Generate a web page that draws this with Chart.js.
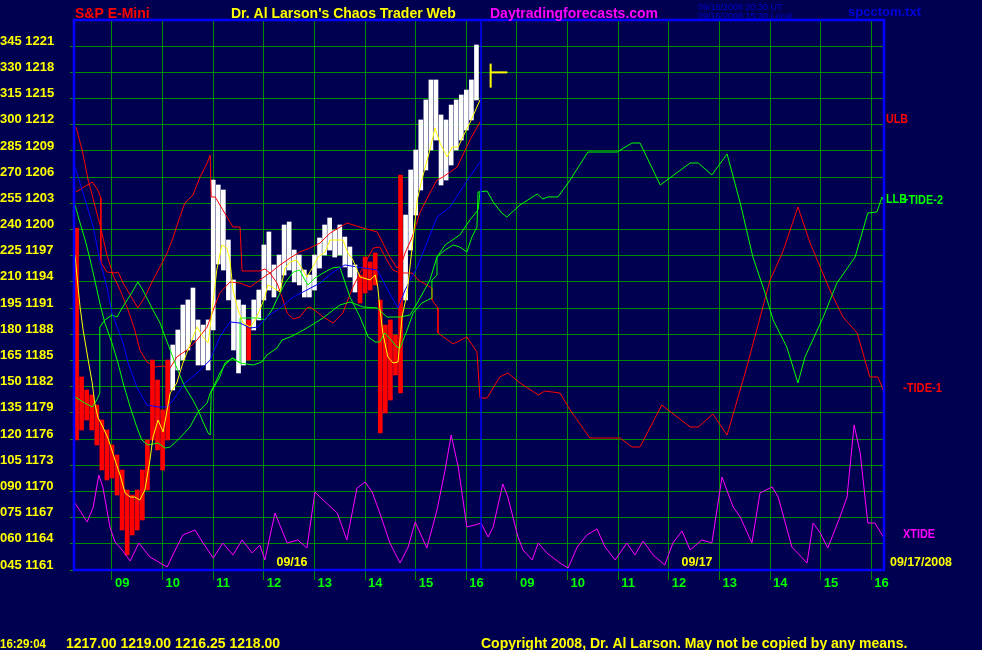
<!DOCTYPE html>
<html>
<head>
<meta charset="utf-8">
<title>S&amp;P E-Mini - Chaos Trader Web</title>
<script src="https://cdn.jsdelivr.net/npm/chart.js@4.4.0/dist/chart.umd.min.js"></script>
<style>
  html, body { margin: 0; padding: 0; background: #000050; }
</style>
</head>
<body>
<canvas id="chaosChart" width="982" height="650"></canvas>
<script>
// time axis: hours since 08:15 on 09/16, second session (09/17) starts at dayBreak
const dayBreak = 8.04;
const sessionDates = ['09/16', '09/17'];
const chartDate = '09/17/2008';
const xTickHours = [0.75, 1.75, 2.75, 3.75, 4.75, 5.75, 6.75, 7.75, 8.75, 9.75, 10.75, 11.75, 12.75, 13.75, 14.75, 15.75];
const xTickLabels = ['09', '10', '11', '12', '13', '14', '15', '16', '09', '10', '11', '12', '13', '14', '15', '16'];

// price axis: degrees on the left, S&P price on the right
const yTickPrices = [1161, 1164, 1167, 1170, 1173, 1176, 1179, 1182, 1185, 1188, 1191, 1194, 1197, 1200, 1203, 1206, 1209, 1212, 1215, 1218, 1221];
const yTickDegrees = ['045', '060', '075', '090', '105', '120', '135', '150', '165', '180', '195', '210', '225', '240', '255', '270', '285', '300', '315', '330', '345'];

// price bars, one every 6 minutes from 08:18 (09/16)
const barStart = 0.05;
const barStep = 0.1;
const barHigh = [1200.17, 1183.11, 1181.62, 1181.05, 1179.90, 1178.18, 1177.04, 1175.32, 1174.17, 1172.45,
  1170.16, 1169.59, 1170.16, 1172.45, 1175.89, 1185.05, 1182.76, 1179.33, 1185.05, 1186.77,
  1188.49, 1191.35, 1191.93, 1193.30, 1189.64, 1189.06, 1189.64, 1205.67, 1205.10, 1204.53,
  1198.80, 1194.22, 1191.93, 1191.35, 1189.64, 1191.93, 1193.07, 1198.23, 1199.72, 1195.94,
  1197.08, 1200.52, 1200.86, 1197.65, 1197.08, 1195.36, 1194.79, 1197.08, 1199.03, 1200.52,
  1201.32, 1199.94, 1200.52, 1199.14, 1198.00, 1195.94, 1194.79, 1196.85, 1196.28, 1197.31,
  1191.93, 1189.06, 1189.64, 1187.92, 1206.25, 1201.66, 1206.82, 1209.11, 1212.55, 1214.84,
  1217.13, 1217.13, 1213.12, 1212.55, 1214.26, 1214.84, 1215.41, 1215.98, 1217.13, 1221.14];
const barLow = [1175.89, 1177.04, 1178.18, 1177.04, 1175.32, 1172.45, 1171.31, 1171.54, 1169.59, 1165.58,
  1162.72, 1165.01, 1165.58, 1166.73, 1170.16, 1175.89, 1174.75, 1172.45, 1175.89, 1181.62,
  1183.91, 1185.05, 1186.20, 1187.35, 1184.48, 1184.48, 1183.91, 1188.49, 1196.05, 1195.36,
  1191.93, 1186.20, 1183.57, 1184.48, 1185.05, 1188.49, 1189.64, 1191.93, 1193.07, 1192.27,
  1193.07, 1194.79, 1195.36, 1193.99, 1193.65, 1192.27, 1192.27, 1193.07, 1195.59, 1197.08,
  1197.65, 1196.85, 1197.08, 1195.71, 1194.56, 1192.84, 1191.58, 1192.73, 1193.07, 1193.65,
  1176.69, 1178.98, 1180.47, 1183.34, 1181.27, 1191.93, 1197.65, 1201.66, 1204.53, 1206.82,
  1209.11, 1210.25, 1205.10, 1205.67, 1207.39, 1209.11, 1210.25, 1211.40, 1212.55, 1214.84];
// 1 = trading below its average (red bar), 0 = above (white bar)
const barBelow = [1, 1, 1, 1, 1, 1, 1, 1, 1, 1, 1, 1, 1, 1, 1, 1, 1, 1, 1, 0,
  0, 0, 0, 0, 0, 0, 0, 0, 0, 0, 0, 0, 0, 0, 1, 0, 0, 0, 0, 0,
  0, 0, 0, 0, 0, 0, 0, 0, 0, 0, 0, 0, 0, 0, 0, 0, 1, 1, 1, 1,
  1, 1, 1, 1, 1, 0, 0, 0, 0, 0, 0, 0, 0, 0, 0, 0, 0, 0, 0, 0];

// last bar
const lastBarTime = '16:29:04';
const lastBarHour = 8.23;
const lastBarOHLC = [1217.00, 1219.00, 1216.25, 1218.00];

// [hour, price] pairs
const avgYellow = [[0.02, 1197.08], [0.06, 1194.56], [0.12, 1191.13], [0.18, 1188.49], [0.28, 1185.05], [0.36, 1182.42],
  [0.41, 1180.13], [0.47, 1178.53], [0.57, 1177.38], [0.67, 1176.12], [0.81, 1173.60], [0.91, 1171.88], [1.01, 1169.82],
  [1.11, 1169.36], [1.20, 1169.36], [1.30, 1169.02], [1.40, 1170.16], [1.50, 1173.60], [1.56, 1176.23], [1.66, 1178.18],
  [1.76, 1176.81], [1.84, 1179.33], [1.90, 1181.27], [2.03, 1182.42], [2.15, 1184.71], [2.35, 1187.69], [2.43, 1188.83],
  [2.55, 1187.69], [2.65, 1187.00], [2.73, 1190.78], [2.82, 1195.36], [2.92, 1198.23], [3.02, 1197.88], [3.08, 1196.51],
  [3.14, 1193.07], [3.24, 1190.78], [3.34, 1189.29], [3.48, 1188.83], [3.58, 1189.64], [3.67, 1190.78], [3.77, 1192.27],
  [3.83, 1193.65], [3.91, 1193.42], [4.07, 1192.84], [4.17, 1195.59], [4.27, 1196.28], [4.40, 1196.51], [4.50, 1195.59],
  [4.60, 1194.56], [4.72, 1195.71], [4.82, 1196.85], [4.96, 1197.43], [5.06, 1198.80], [5.31, 1198.80], [5.41, 1197.31],
  [5.51, 1196.51], [5.65, 1194.56], [5.85, 1194.22], [5.95, 1194.79], [6.00, 1193.42], [6.04, 1191.13], [6.10, 1188.15],
  [6.20, 1185.40], [6.30, 1184.71], [6.40, 1184.83], [6.48, 1189.98], [6.58, 1192.73], [6.68, 1198.00], [6.78, 1203.38],
  [6.87, 1205.67], [7.03, 1209.11], [7.13, 1211.63], [7.23, 1209.91], [7.37, 1208.31], [7.47, 1209.45], [7.59, 1209.45],
  [7.68, 1210.60], [7.82, 1212.20], [8.02, 1214.84]];

const avgBlue = [[0.02, 1207.16], [0.18, 1204.18], [0.38, 1200.29], [0.51, 1196.51], [0.65, 1193.42], [0.75, 1190.44],
  [0.97, 1187.00], [1.07, 1184.71], [1.24, 1181.96], [1.44, 1179.90], [1.66, 1179.67], [1.84, 1179.67], [1.96, 1180.47],
  [2.19, 1182.42], [2.43, 1183.57], [2.69, 1185.05], [2.88, 1187.69], [3.08, 1189.41], [3.28, 1189.29], [3.48, 1188.72],
  [3.63, 1188.83], [3.81, 1189.98], [4.07, 1191.01], [4.33, 1192.27], [4.60, 1193.07], [4.86, 1193.87], [5.12, 1195.13],
  [5.35, 1195.94], [5.59, 1195.71], [5.99, 1195.36], [6.20, 1193.07], [6.40, 1191.01], [6.54, 1193.07], [6.78, 1195.71],
  [6.97, 1198.46], [7.17, 1201.43], [7.43, 1202.58], [7.68, 1204.87], [8.02, 1207.73]];

const ulbLine = [[0.04, 1211.74], [0.16, 1209.11], [0.28, 1205.67], [0.41, 1202.81], [0.53, 1200.17], [0.65, 1197.08],
  [0.77, 1194.79], [0.91, 1193.07], [1.07, 1190.78], [1.20, 1188.49], [1.30, 1186.20], [1.44, 1184.83], [1.60, 1184.25],
  [1.76, 1184.37], [1.90, 1184.14], [2.03, 1185.40], [2.23, 1186.20], [2.43, 1187.35], [2.63, 1188.83], [2.75, 1190.78],
  [2.88, 1192.73], [3.08, 1193.99], [3.28, 1193.87], [3.48, 1193.42], [3.67, 1194.22], [3.87, 1195.02], [4.07, 1195.94],
  [4.27, 1196.74], [4.46, 1197.43], [4.66, 1197.88], [4.86, 1198.46], [5.06, 1199.60], [5.39, 1200.75], [5.71, 1200.17],
  [5.99, 1199.72], [6.10, 1198.46], [6.24, 1196.85], [6.38, 1195.59], [6.48, 1196.28], [6.54, 1197.31], [6.68, 1199.14],
  [6.83, 1201.89], [7.03, 1204.18], [7.17, 1205.67], [7.29, 1206.02], [7.57, 1207.16], [7.82, 1210.25], [8.02, 1212.32]];

const llbLine = [[0.02, 1180.82], [0.18, 1180.24], [0.36, 1179.67], [0.45, 1180.47], [0.51, 1181.27], [0.51, 1188.83],
  [0.61, 1189.64], [0.75, 1190.21], [0.85, 1189.98], [0.95, 1191.01], [1.05, 1191.93], [1.15, 1192.84], [1.26, 1193.99],
  [1.36, 1193.07], [1.46, 1191.93], [1.56, 1190.78], [1.70, 1189.29], [1.80, 1187.69], [1.90, 1186.20], [2.03, 1184.14],
  [2.19, 1181.96], [2.35, 1180.47], [2.45, 1179.33], [2.55, 1177.95], [2.65, 1176.69], [2.69, 1176.46], [2.71, 1181.39],
  [2.88, 1183.11], [2.98, 1184.71], [3.14, 1185.28], [3.28, 1184.71], [3.28, 1189.87], [3.63, 1189.87], [3.77, 1189.64],
  [3.91, 1190.78], [4.03, 1192.27], [4.17, 1193.87], [4.33, 1195.13], [4.46, 1195.36], [4.56, 1194.22], [4.62, 1193.65],
  [4.76, 1194.45], [4.92, 1195.02], [5.10, 1195.59], [5.25, 1195.71], [5.45, 1192.27], [5.65, 1189.98], [5.81, 1187.69],
  [5.95, 1187.12], [6.04, 1187.12], [6.14, 1188.15], [6.38, 1186.54], [6.44, 1186.43], [6.58, 1188.49], [6.70, 1190.44],
  [6.87, 1191.58], [7.07, 1192.16], [7.07, 1194.22], [7.17, 1194.79], [7.17, 1196.85], [7.33, 1198.23], [7.62, 1199.37],
  [7.82, 1201.09], [7.98, 1202.24], [8.02, 1204.30]];

const tide1Line = [[0.04, 1204.30], [0.36, 1205.44], [0.47, 1204.53], [0.53, 1203.61], [0.53, 1196.28], [0.65, 1195.13],
  [0.81, 1195.02], [0.87, 1195.13], [0.97, 1193.87], [1.11, 1192.50], [1.26, 1191.01], [1.40, 1192.27], [1.56, 1194.22],
  [1.74, 1196.17], [1.84, 1197.31], [1.96, 1199.14], [2.09, 1201.43], [2.19, 1203.04], [2.35, 1203.95], [2.49, 1206.02],
  [2.63, 1207.62], [2.69, 1208.54], [2.71, 1203.73], [2.79, 1203.73], [2.94, 1202.24], [3.14, 1200.29], [3.28, 1200.29],
  [3.32, 1195.25], [3.67, 1195.25], [3.77, 1195.48], [3.87, 1195.02], [4.01, 1193.87], [4.11, 1192.27], [4.21, 1190.44],
  [4.33, 1189.75], [4.46, 1189.98], [4.60, 1191.01], [4.66, 1191.13], [4.80, 1190.55], [4.92, 1189.98], [5.12, 1189.29],
  [5.31, 1190.44], [5.51, 1193.42], [5.71, 1195.71], [5.91, 1197.88], [6.04, 1198.00], [6.18, 1196.51], [6.30, 1195.36],
  [6.44, 1195.02], [6.68, 1195.02], [6.80, 1194.22], [7.07, 1193.30], [7.07, 1191.93], [7.19, 1191.01], [7.19, 1188.15],
  [7.49, 1186.89], [7.76, 1187.69], [7.96, 1185.97], [8.02, 1180.70],
  [8.16, 1180.70], [8.41, 1183.11], [8.57, 1183.57], [8.81, 1182.42], [9.17, 1181.05], [9.30, 1181.50], [9.60, 1181.27],
  [9.80, 1179.33], [10.19, 1176.12], [10.79, 1176.12], [11.02, 1175.09], [11.18, 1175.09], [11.61, 1179.90], [12.17, 1177.38],
  [12.33, 1177.38], [12.62, 1178.87], [12.90, 1176.46], [13.29, 1184.25], [13.75, 1194.22], [14.00, 1197.43], [14.30, 1202.58],
  [14.54, 1198.46], [14.93, 1193.07], [15.19, 1189.98], [15.47, 1188.15], [15.72, 1183.11], [15.88, 1183.11], [16.00, 1181.39]];

const tide2Line = [[0.02, 1202.81], [0.12, 1200.75], [0.22, 1198.80], [0.32, 1196.51], [0.41, 1194.22], [0.51, 1191.58],
  [0.61, 1189.29], [0.75, 1187.00], [0.87, 1184.71], [0.97, 1182.42], [1.11, 1179.67], [1.24, 1177.38], [1.34, 1175.89],
  [1.46, 1175.32], [1.66, 1175.55], [1.80, 1174.97], [1.90, 1175.09], [2.09, 1176.12], [2.29, 1177.38], [2.45, 1179.10],
  [2.63, 1180.13], [2.69, 1181.27], [2.79, 1182.42], [2.88, 1183.57], [2.98, 1184.48], [3.12, 1185.28], [3.28, 1184.71],
  [3.54, 1184.48], [3.71, 1184.83], [3.81, 1185.63], [4.01, 1186.43], [4.11, 1187.35], [4.27, 1187.69], [4.46, 1188.26],
  [4.60, 1188.72], [4.76, 1189.29], [4.92, 1189.87], [5.12, 1190.78], [5.25, 1191.35], [5.45, 1191.70], [5.71, 1191.13],
  [5.99, 1191.01], [6.18, 1189.98], [6.44, 1189.98], [6.64, 1190.21], [6.78, 1191.58], [6.89, 1192.73], [7.03, 1194.22],
  [7.17, 1196.85], [7.33, 1197.65], [7.49, 1198.23], [7.62, 1198.00], [7.76, 1197.43], [7.86, 1199.14], [7.96, 1200.29],
  [7.98, 1204.30],
  [8.16, 1204.41], [8.28, 1203.15], [8.45, 1201.89], [8.55, 1201.43], [8.81, 1202.81], [9.15, 1204.07], [9.26, 1203.50],
  [9.36, 1203.73], [9.56, 1203.73], [9.80, 1205.67], [10.15, 1208.88], [10.73, 1208.88], [11.02, 1209.91], [11.18, 1209.91],
  [11.58, 1205.10], [12.17, 1207.62], [12.33, 1207.62], [12.60, 1206.25], [12.90, 1208.65], [13.16, 1203.04], [13.41, 1196.85],
  [13.65, 1192.73], [13.81, 1189.64], [14.08, 1186.54], [14.30, 1182.42], [14.44, 1185.40], [14.80, 1189.98], [15.07, 1193.87],
  [15.43, 1196.85], [15.68, 1201.89], [15.86, 1202.01], [15.96, 1203.73], [16.00, 1203.15]];

const xtideLine = [[0.02, 1168.67], [0.26, 1166.50], [0.38, 1168.22], [0.49, 1171.88], [0.57, 1170.51], [0.71, 1165.93],
  [0.81, 1164.21], [0.95, 1163.29], [1.11, 1162.03], [1.28, 1164.09], [1.50, 1162.49], [1.84, 1161.34], [2.00, 1163.29],
  [2.15, 1165.01], [2.39, 1165.58], [2.55, 1164.09], [2.75, 1162.37], [2.94, 1164.09], [3.14, 1162.72], [3.32, 1164.44],
  [3.52, 1162.95], [3.67, 1163.86], [3.77, 1162.15], [3.97, 1167.53], [4.21, 1164.09], [4.42, 1164.44], [4.60, 1163.52],
  [4.76, 1169.93], [4.92, 1169.02], [5.20, 1167.53], [5.39, 1164.44], [5.59, 1170.39], [5.75, 1171.08], [5.89, 1169.93],
  [6.04, 1167.53], [6.24, 1164.09], [6.44, 1161.80], [6.60, 1163.63], [6.74, 1166.50], [6.97, 1163.52], [7.17, 1167.87],
  [7.33, 1172.45], [7.45, 1176.46], [7.59, 1172.80], [7.76, 1165.93], [7.92, 1166.15], [8.04, 1166.38],
  [8.18, 1164.78], [8.28, 1165.93], [8.47, 1170.85], [8.57, 1169.36], [8.77, 1164.78], [8.87, 1163.29], [9.05, 1162.15],
  [9.17, 1164.09], [9.34, 1162.95], [9.60, 1161.80], [9.76, 1161.23], [9.94, 1163.63], [10.13, 1165.01], [10.33, 1165.70],
  [10.49, 1163.63], [10.69, 1162.15], [10.92, 1164.09], [11.08, 1162.72], [11.24, 1164.32], [11.44, 1162.72], [11.67, 1161.57],
  [11.83, 1164.09], [12.01, 1165.47], [12.17, 1163.29], [12.40, 1164.44], [12.60, 1164.09], [12.80, 1171.65], [13.02, 1168.22],
  [13.16, 1167.07], [13.39, 1164.09], [13.55, 1169.82], [13.79, 1170.51], [13.91, 1169.36], [14.18, 1163.63], [14.48, 1161.80],
  [14.60, 1166.38], [14.74, 1165.24], [14.89, 1163.52], [15.13, 1167.07], [15.27, 1169.36], [15.41, 1177.61], [15.53, 1174.40],
  [15.68, 1166.38], [15.82, 1166.38], [16.00, 1164.67]];

const BG = '#000050';
const GRID = 'rgb(0,140,0)';
const FONT = '"Liberation Sans", Arial, sans-serif';

function pts(pairs) {
    return pairs.map(p => ({ x: p[0], y: p[1] }));
}

function line(pairs, color, order, width) {
    return {
        type: 'line',
        data: pts(pairs),
        borderColor: color,
        borderWidth: width || 1,
        pointRadius: 0,
        tension: 0,
        fill: false,
        order: order
    };
}

const priceBars = {
    type: 'bar',
    data: barHigh.map((hi, i) => ({ x: barStart + i * barStep, y: [barLow[i], hi] })),
    backgroundColor: barBelow.map(b => b ? '#ff0000' : '#ffffff'),
    borderWidth: 0,
    barThickness: 4,
    order: 9
};

// last bar: high-low stick with a close tick to the right
const lastStick = line([[lastBarHour, lastBarOHLC[2]], [lastBarHour, lastBarOHLC[1]]], '#ffff00', 0, 2);
const lastClose = line([[lastBarHour, lastBarOHLC[3]], [lastBarHour + 0.33, lastBarOHLC[3]]], '#ffff00', 0, 2);

function txt(ctx, s, x, y, color, font, maxW) {
    ctx.fillStyle = color;
    ctx.font = font;
    if (maxW) ctx.fillText(s, x, y, maxW);
    else ctx.fillText(s, x, y);
}

const chaosFrame = {
    id: 'chaosFrame',
    beforeDraw(chart) {
        const c = chart.ctx;
        c.save();
        c.fillStyle = BG;
        c.fillRect(0, 0, chart.width, chart.height);
        c.restore();
    },
    afterDraw(chart) {
        const c = chart.ctx;
        const a = chart.chartArea;
        const xs = chart.scales.x, ys = chart.scales.y;
        c.save();

        // session divider + frame
        const xb = xs.getPixelForValue(dayBreak);
        c.strokeStyle = '#0000ff';
        c.lineWidth = 1.5;
        c.beginPath();
        c.moveTo(xb, a.top);
        c.lineTo(xb, a.bottom);
        c.stroke();
        c.lineWidth = 2.5;
        c.strokeRect(a.left, a.top, a.right - a.left, a.bottom - a.top);

        c.textBaseline = 'alphabetic';
        c.textAlign = 'left';

        // header
        txt(c, 'S&P E-Mini', 75, 18, '#ff0000', 'bold 14px ' + FONT);
        txt(c, "Dr. Al Larson's Chaos Trader Web", 231, 18, '#ffff00', 'bold 14px ' + FONT, 231);
        txt(c, 'Daytradingforecasts.com', 490, 18, '#ff00ff', 'bold 14px ' + FONT, 173);
        txt(c, '09/16/2008 20:30 UT', 698, 10, '#0000c8', '9px ' + FONT, 86);
        txt(c, '09/16/2008 15:30 Local', 698, 19, '#0000c8', '9px ' + FONT, 98);
        txt(c, 'spcctom.txt', 848, 16, '#0000d8', 'bold 13px ' + FONT, 73);

        // session dates inside the plot
        const dateFont = 'bold 13px ' + FONT;
        const baseY = a.bottom - 4;
        txt(c, sessionDates[0], xs.getPixelForValue(4), baseY, '#ffff00', dateFont, 31);
        txt(c, sessionDates[1], xs.getPixelForValue(dayBreak + 3.96), baseY, '#ffff00', dateFont, 31);
        txt(c, chartDate, a.right + 6, baseY, '#ffff00', dateFont, 62);

        // series labels at the right edge
        const lblFont = 'bold 12px ' + FONT;
        const last = arr => ys.getPixelForValue(arr[arr.length - 1][1]);
        txt(c, 'ULB', a.right + 2, last(ulbLine) + 1, '#ff0000', lblFont, 22);
        txt(c, 'LLB', a.right + 2, last(tide2Line) + 1, '#00ff00', lblFont, 21);
        txt(c, '+TIDE-2', a.right + 18, last(tide2Line) + 2, '#00ff00', lblFont, 41);
        txt(c, '-TIDE-1', a.right + 19, last(tide1Line), '#ff0000', lblFont, 39);
        txt(c, 'XTIDE', a.right + 19, last(xtideLine), '#ff00ff', lblFont, 32);

        // footer
        const ftFont = 'bold 14px ' + FONT;
        txt(c, lastBarTime, 0, 648, '#ffff00', 'bold 13px ' + FONT, 46);
        txt(c, lastBarOHLC.map(v => v.toFixed(2)).join(' '), 66, 648, '#ffff00', ftFont, 218);
        txt(c, 'Copyright 2008, Dr. Al Larson. May not be copied by any means.', 481, 648, '#ffff00', ftFont, 438);

        c.restore();
    }
};

const ctx = document.getElementById('chaosChart');
new Chart(ctx, {
    type: 'line',
    data: {
        datasets: [
            priceBars,
            line(xtideLine, '#ff00ff', 3),
            line(llbLine, '#00ff00', 3),
            line(tide2Line, '#00ff00', 3),
            line(ulbLine, '#ff0000', 3),
            line(tide1Line, '#ff0000', 3),
            line(avgBlue, '#0000ff', 2),
            line(avgYellow, '#ffff00', 1),
            lastStick,
            lastClose
        ]
    },
    options: {
        responsive: false,
        animation: false,
        events: [],
        layout: { padding: { left: 0, right: 98, top: 20, bottom: 60 } },
        plugins: { legend: { display: false }, tooltip: { enabled: false } },
        scales: {
            x: {
                type: 'linear',
                min: 0,
                max: 16,
                offset: false,
                afterBuildTicks: s => { s.ticks = xTickHours.map(v => ({ value: v })); },
                afterFit: s => { s.height = 20; },
                grid: { color: GRID, lineWidth: 1, tickLength: 10, offset: false },
                border: { display: false },
                ticks: {
                    color: '#00ff00',
                    font: { family: FONT, size: 13, weight: 'bold' },
                    align: 'start',
                    labelOffset: 3,
                    padding: -4,
                    maxRotation: 0,
                    autoSkip: false,
                    callback: (v, i) => xTickLabels[i]
                }
            },
            y: {
                type: 'linear',
                min: 1161,
                max: 1224,
                afterBuildTicks: s => { s.ticks = yTickPrices.map(v => ({ value: v })); },
                afterFit: s => { s.width = 74; },
                grid: { color: GRID, lineWidth: 1, tickLength: 4 },
                border: { display: false },
                ticks: {
                    color: '#ffff00',
                    font: { family: FONT, size: 13, weight: 'bold' },
                    crossAlign: 'far',
                    labelOffset: -5,
                    autoSkip: false,
                    callback: (v, i) => yTickDegrees[i] + ' ' + yTickPrices[i]
                }
            }
        }
    },
    plugins: [chaosFrame]
});
</script>
</body>
</html>
